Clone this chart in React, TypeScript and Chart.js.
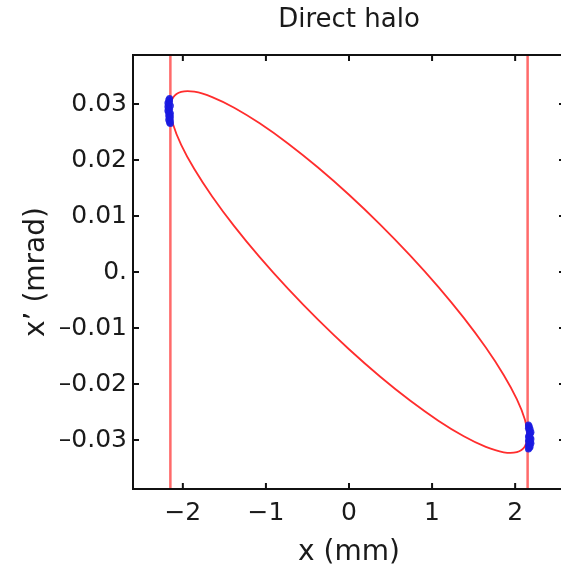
import React, { useEffect, useRef } from "react";
import { Chart, registerables } from "chart.js";

Chart.register(...registerables);

// ---- data ----
const TITLE = "Direct halo";
const X_LABEL = "x (mm)";
const Y_LABEL = "x\u2019 (mrad)";

const X_RANGE = [-2.6, 2.6];
const Y_RANGE = [-0.03875, 0.03875];

const X_TICKS = [-2, -1, 0, 1, 2];
const X_TICK_LABELS = ["\u22122", "\u22121", "0", "1", "2"];
const Y_TICKS = [0.03, 0.02, 0.01, 0, -0.01, -0.02, -0.03];
const Y_TICK_LABELS = ["0.03", "0.02", "0.01", "0.", "\u20130.01", "\u20130.02", "\u20130.03"];

// acceptance ellipse
const ELLIPSE_X = [
  2.150, 2.117, 2.020, 1.862, 1.647, 1.382, 1.075, 0.735, 0.373, 0.0,
  -0.373, -0.735, -1.075, -1.382, -1.647, -1.862, -2.020, -2.117, -2.150,
  -2.117, -2.020, -1.862, -1.647, -1.382, -1.075, -0.735, -0.373, 0.0,
  0.373, 0.735, 1.075, 1.382, 1.647, 1.862, 2.020, 2.117, 2.150,
];
const ELLIPSE_Y = [
  -0.02920, -0.02636, -0.02272, -0.01839, -0.01350, -0.00820, -0.00265, 0.00298, 0.00852, 0.01380,
  0.01866, 0.02296, 0.02655, 0.02934, 0.03124, 0.03219, 0.03216, 0.03116, 0.02920,
  0.02636, 0.02272, 0.01839, 0.01350, 0.00820, 0.00265, -0.00298, -0.00852, -0.01380,
  -0.01866, -0.02296, -0.02655, -0.02934, -0.03124, -0.03219, -0.03216, -0.03116, -0.02920,
];

// collimator jaw positions (vertical lines)
const JAW_X = [-2.15, 2.15];
const JAW_Y_SPAN = [-0.05, 0.05];

// halo particles
const HALO_LEFT_X = [
  -2.16, -2.17, -2.16, -2.18, -2.17, -2.15, -2.18, -2.17, -2.16, -2.18, -2.17, -2.15,
  -2.16, -2.17, -2.15, -2.16, -2.17, -2.15, -2.16, -2.15,
];
const HALO_LEFT_Y = [
  0.0310, 0.0307, 0.0304, 0.0302, 0.0299, 0.0297, 0.0295, 0.0292, 0.0290, 0.0288, 0.0285, 0.0283,
  0.0281, 0.0279, 0.0277, 0.0275, 0.0272, 0.0270, 0.0267, 0.0265,
];
const HALO_RIGHT_X = [
  2.16, 2.17, 2.16, 2.18, 2.17, 2.19, 2.18, 2.17, 2.16, 2.18, 2.19, 2.17,
  2.16, 2.18, 2.19, 2.17, 2.16, 2.18, 2.17, 2.16,
];
const HALO_RIGHT_Y = [
  -0.0273, -0.0276, -0.0279, -0.0281, -0.0284, -0.0286, -0.0289, -0.0291, -0.0294, -0.0296, -0.0298, -0.0300,
  -0.0302, -0.0304, -0.0306, -0.0308, -0.0310, -0.0312, -0.0314, -0.0316,
];

const FONT = "'DejaVu Sans', sans-serif";
const TEXT_COLOR = "#1a1a1a";

const zip = (xs: number[], ys: number[]) => xs.map((x, i) => ({ x, y: ys[i] }));

const labelFor = (ticks: number[], labels: string[]) => (value: number) => {
  const i = ticks.findIndex((t) => Math.abs(t - value) < 1e-9);
  return i >= 0 ? labels[i] : "";
};

const framePlugin = {
  id: "frameTicks",
  afterDatasetsDraw(chart: any) {
    const { ctx, chartArea } = chart;
    const { left, right, top, bottom } = chartArea;
    const xs = chart.scales.x;
    const ys = chart.scales.y;
    const len = 6;
    ctx.save();
    ctx.strokeStyle = "#111";
    ctx.lineWidth = 2;
    ctx.strokeRect(left, top, right - left, bottom - top);
    ctx.beginPath();
    X_TICKS.forEach((v) => {
      const px = xs.getPixelForValue(v);
      ctx.moveTo(px, bottom);
      ctx.lineTo(px, bottom - len);
      ctx.moveTo(px, top);
      ctx.lineTo(px, top + len);
    });
    Y_TICKS.forEach((v) => {
      const py = ys.getPixelForValue(v);
      ctx.moveTo(left, py);
      ctx.lineTo(left + len, py);
      ctx.moveTo(right, py);
      ctx.lineTo(right - len, py);
    });
    ctx.stroke();
    ctx.restore();
  },
};

export default function App() {
  const ref = useRef<HTMLCanvasElement | null>(null);

  useEffect(() => {
    if (!ref.current) return;
    const haloStyle = {
      pointRadius: 3.5,
      pointBackgroundColor: "rgba(25,25,225,0.9)",
      pointBorderWidth: 0,
      showLine: false,
      order: 0,
    };
    const chart = new Chart(ref.current, {
      type: "scatter",
      data: {
        datasets: [
          { label: "halo left", data: zip(HALO_LEFT_X, HALO_LEFT_Y), ...haloStyle },
          { label: "halo right", data: zip(HALO_RIGHT_X, HALO_RIGHT_Y), ...haloStyle },
          {
            label: "ellipse",
            data: zip(ELLIPSE_X, ELLIPSE_Y),
            showLine: true,
            pointRadius: 0,
            borderColor: "rgb(255,45,45)",
            borderWidth: 1.8,
            tension: 0.4,
            fill: false,
            order: 1,
          } as any,
          ...JAW_X.map((jx) => ({
            label: "jaw",
            data: JAW_Y_SPAN.map((y) => ({ x: jx, y })),
            showLine: true,
            pointRadius: 0,
            borderColor: "rgba(255,80,80,0.85)",
            borderWidth: 2.5,
            order: 2,
          })),
        ],
      },
      options: {
        animation: false,
        responsive: false,
        devicePixelRatio: 1,
        layout: { padding: { left: 0, top: 0, right: 35, bottom: 0 } },
        plugins: {
          legend: { display: false },
          tooltip: { enabled: false },
          title: {
            display: true,
            text: TITLE,
            fullSize: false,
            color: TEXT_COLOR,
            font: { family: FONT, size: 26, weight: "normal" },
            padding: { top: 4.4, bottom: 19.4 },
          },
        },
        scales: {
          x: {
            type: "linear",
            min: X_RANGE[0],
            max: X_RANGE[1],
            grid: { display: false, drawTicks: false },
            border: { display: false },
            afterBuildTicks: (s: any) => {
              s.ticks = X_TICKS.map((v) => ({ value: v }));
            },
            afterFit: (s: any) => {
              s.height = 76;
            },
            ticks: {
              autoSkip: false,
              maxRotation: 0,
              padding: 9,
              color: TEXT_COLOR,
              font: { family: FONT, size: 25 },
              callback: labelFor(X_TICKS, X_TICK_LABELS) as any,
            },
            title: {
              display: true,
              text: X_LABEL,
              color: TEXT_COLOR,
              font: { family: FONT, size: 28 },
              padding: { top: 0, bottom: -5 },
            },
          },
          y: {
            type: "linear",
            min: Y_RANGE[0],
            max: Y_RANGE[1],
            grid: { display: false, drawTicks: false },
            border: { display: false },
            afterBuildTicks: (s: any) => {
              s.ticks = Y_TICKS.map((v) => ({ value: v }));
            },
            afterFit: (s: any) => {
              s.width = 133;
            },
            ticks: {
              autoSkip: false,
              padding: 6,
              color: TEXT_COLOR,
              font: { family: FONT, size: 25 },
              callback: labelFor(Y_TICKS, Y_TICK_LABELS) as any,
            },
            title: {
              display: true,
              text: Y_LABEL,
              color: TEXT_COLOR,
              font: { family: FONT, size: 28 },
              padding: { top: 20, bottom: 0 },
            },
          },
        },
      },
      plugins: [framePlugin],
    });
    return () => chart.destroy();
  }, []);

  return (
    <div
      style={{
        position: "fixed",
        left: 0,
        top: 0,
        width: 561,
        height: 565,
        overflow: "hidden",
        background: "#fff",
      }}
    >
      <canvas ref={ref} width={600} height={565} style={{ display: "block", width: 600, height: 565 }} />
    </div>
  );
}
